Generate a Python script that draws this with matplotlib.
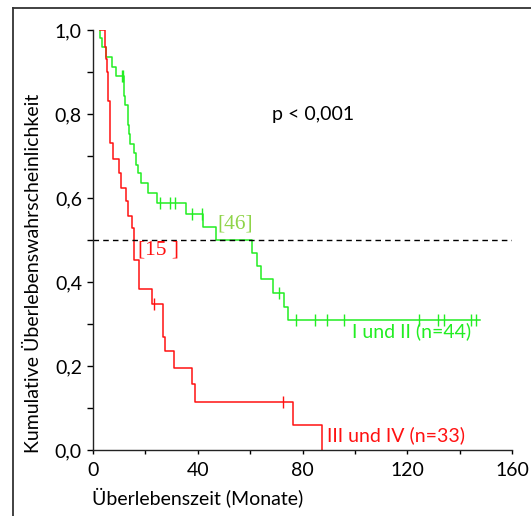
import matplotlib.pyplot as plt
import numpy as np
from matplotlib.lines import Line2D
from matplotlib.ticker import FuncFormatter, MultipleLocator

# ---- data (months, survival)
green_t = [2.5, 2.6, 3.5, 5.1, 7.4, 8.7, 11.7, 12.4, 13.4, 13.7, 14.2, 15.7, 16.4,
           17.3, 18.3, 20.9, 24.3, 35.7, 42.1, 46.8, 60.8, 62.8, 64.1, 68.6, 72.9,
           74.3, 147.7]
green_s = [1.0, 0.98, 0.96, 0.936, 0.913, 0.891, 0.843, 0.821, 0.774, 0.752, 0.729,
           0.706, 0.679, 0.66, 0.636, 0.612, 0.588, 0.562, 0.531, 0.5, 0.468, 0.438,
           0.407, 0.375, 0.341, 0.31, 0.31]
green_cens = [10.9, 11.5, 25.6, 29.4, 31.3, 37.8, 41.6, 71.0, 77.4, 84.6, 89.2, 96.0,
              124.4, 131.8, 134.0, 144.2, 146.4]

red_t = [2.5, 4.4, 5.0, 5.4, 5.9, 6.4, 7.6, 9.8, 10.6, 12.5, 13.4, 15.0, 15.5, 17.6,
         22.6, 26.8, 27.5, 30.9, 37.9, 38.9, 76.5, 87.3]
red_s = [1.0, 0.96, 0.93, 0.90, 0.83, 0.73, 0.694, 0.659, 0.625, 0.592, 0.556, 0.528,
         0.452, 0.383, 0.348, 0.27, 0.236, 0.196, 0.156, 0.115, 0.06, 0.0]
red_cens = [23.4, 72.4]

green_median = 46
red_median = 15

y_ticks = [0.0, 0.2, 0.4, 0.6, 0.8, 1.0]
x_ticks = [0, 40, 80, 120, 160]

GREEN = '#22ee22'
RED = '#ff1111'
FONT = 'Lato'
FS = 14


def survival_at(times, surv, t):
    # value of the step function (post) at time t
    i = np.searchsorted(times, t, side='right') - 1
    return np.asarray(surv)[i]


def main():
    fig = plt.figure(figsize=(5.31, 5.16), dpi=100)
    plt.rcParams['font.family'] = [FONT, 'DejaVu Sans']

    ax = fig.add_axes([93 / 531, 66 / 516, 419 / 531, 420 / 516])

    # survival curves
    ax.step(green_t, green_s, where='post', color=GREEN, lw=1.1)
    ax.step(red_t, red_s, where='post', color=RED, lw=1.1)

    # censored marks
    ax.plot(green_cens, survival_at(green_t, green_s, green_cens), ls='none',
            marker='|', ms=8, mew=1.0, color=GREEN)
    ax.plot(red_cens, survival_at(red_t, red_s, red_cens), ls='none',
            marker='|', ms=8, mew=1.0, color=RED)

    # median line
    ax.axhline(0.5, color='black', lw=1.0, ls=(0, (4, 3)))

    ax.text(green_median + 8.2, 0.538, '[%d]' % green_median, color='#8fd448',
            family='Liberation Serif', fontsize=15.5, ha='center', va='center')
    ax.text(red_median + 10.2, 0.476, '[%d ]' % red_median, color=RED,
            family='Liberation Serif', fontsize=15.5, ha='center', va='center')

    ax.text(68.3, 0.798, 'p < 0,001', fontsize=FS, ha='left', va='center')
    ax.text(98.9, 0.283, 'I und II (n=44)', color=GREEN, fontsize=FS,
            ha='left', va='center')
    ax.text(89.3, 0.036, 'III und IV (n=33)', color=RED, fontsize=FS,
            ha='left', va='center')

    ax.set_xlim(0, 160)
    ax.set_ylim(0, 1.0)
    ax.set_xticks(x_ticks)
    ax.set_yticks(y_ticks)
    ax.xaxis.set_minor_locator(MultipleLocator(20))
    ax.yaxis.set_minor_locator(MultipleLocator(0.1))
    ax.yaxis.set_major_formatter(FuncFormatter(lambda v, p: ('%.1f' % v).replace('.', ',')))
    ax.tick_params(axis='y', which='both', direction='out', length=4, width=1,
                   labelsize=FS, pad=4)
    ax.tick_params(axis='x', which='both', direction='out', length=3, width=1,
                   labelsize=FS, pad=6)

    for side in ['top', 'right']:
        ax.spines[side].set_visible(False)
    for side in ['left', 'bottom']:
        ax.spines[side].set_color('#222222')
        ax.spines[side].set_linewidth(1.0)

    fig.text(92 / 531, 1 - 497 / 516, 'Überlebenszeit (Monate)', fontsize=FS,
             ha='left', va='center')
    fig.text(33 / 531, 1 - 273 / 516, 'Kumulative Überlebenswahrscheinlichkeit',
             fontsize=FS, rotation=90, ha='center', va='center')

    # frame around the figure (left and top visible)
    fig.add_artist(Line2D([13 / 531, 13 / 531], [0, 1 - 8 / 516], transform=fig.transFigure,
                          color='#333333', lw=1.3))
    fig.add_artist(Line2D([13 / 531, 1], [1 - 8 / 516, 1 - 8 / 516], transform=fig.transFigure,
                          color='#333333', lw=1.3))

    fig.savefig('out.png', dpi=100)


if __name__ == "__main__":
    main()
